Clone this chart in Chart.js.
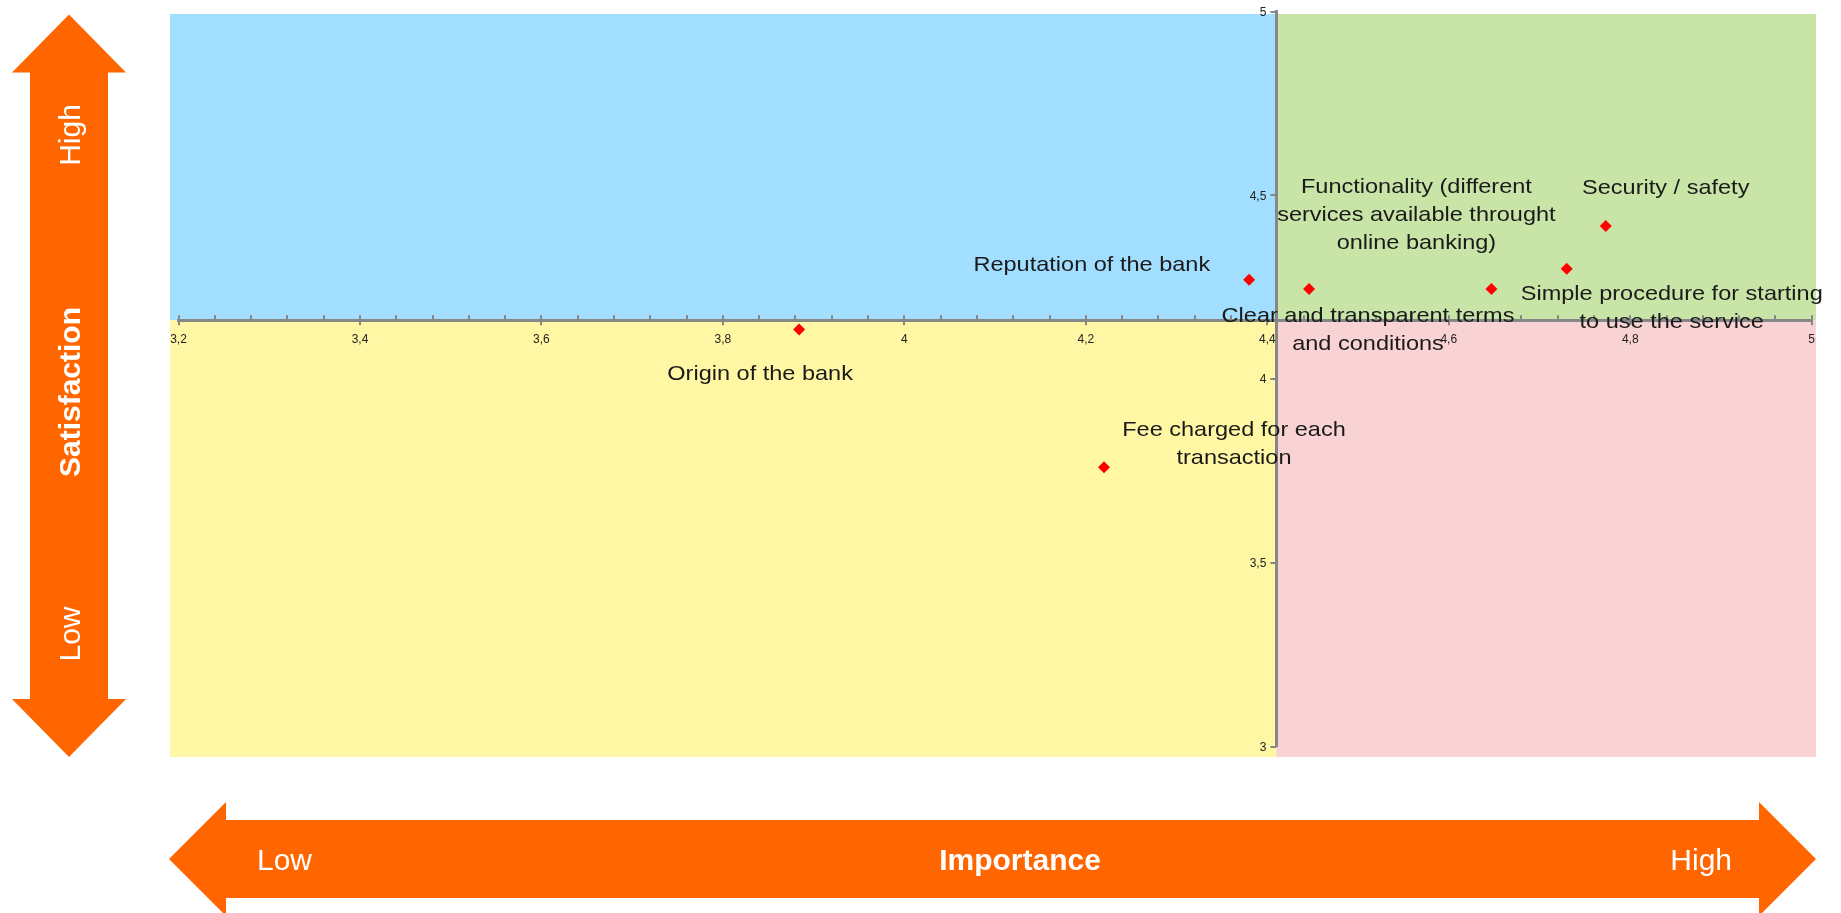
<!DOCTYPE html>
<html>
<head>
<meta charset="utf-8">
<title>Importance vs Satisfaction</title>
<script src="https://cdn.jsdelivr.net/npm/chart.js@4.4.1/dist/chart.umd.min.js"></script>
<style>
  html, body { margin: 0; padding: 0; background: #fff; }
  #wrap { position: relative; width: 1841px; height: 913px; }
</style>
</head>
<body>
<div id="wrap"><canvas id="matrix"></canvas></div>
<script>
// Factors of online banking, rated on importance (x) and satisfaction (y)
const factorLabels = [
  ['Security / safety'],
  ['Simple procedure for starting', 'to use the service'],
  ['Functionality (different', 'services available throught', 'online banking)'],
  ['Clear and transparent terms', 'and conditions'],
  ['Reputation of the bank'],
  ['Origin of the bank'],
  ['Fee charged for each', 'transaction']
];
const importance = [4.773, 4.73, 4.647, 4.446, 4.38, 3.884, 4.22];
const satisfaction = [4.416, 4.30, 4.245, 4.245, 4.27, 4.135, 3.76];

// Tick values and their printed labels (decimal comma)
const xMajorTicks = [3.2, 3.4, 3.6, 3.8, 4, 4.2, 4.4, 4.6, 4.8, 5];
const xTickLabels = ['3,2', '3,4', '3,6', '3,8', '4', '4,2', '4,4', '4,6', '4,8', '5'];
const yMajorTicks = [3, 3.5, 4, 4.5, 5];
const yTickLabels = ['3', '3,5', '4', '4,5', '5'];

// Where the two axes cross each other
const yAxisAt = 4.41;
const xAxisAt = 4.16;

// Where each label sits relative to its point
const labelLayout = [
  { dx: 60, dy: -38, align: 'center' },
  { dx: 105, dy: 25, align: 'center' },
  { dx: -75, dy: -102, align: 'center' },
  { dx: 59, dy: 27, align: 'center' },
  { dx: -39, dy: -15, align: 'right' },
  { dx: -39, dy: 45, align: 'center' },
  { dx: 130, dy: -37, align: 'center' }
];

const FONT = '"Liberation Sans", Arial, sans-serif';
const ORANGE = '#ff6600';
const AXIS_GREY = '#878787';

function tickText(value, ticks, labels) {
  const i = ticks.findIndex(t => Math.abs(t - value) < 1e-6);
  return i >= 0 ? labels[i] : '';
}

// Double-headed block arrow
function blockArrow(ctx, vertical, c, start, end, headLen, headHalf, shaftHalf) {
  const pts = [
    [start, 0], [start + headLen, -headHalf], [start + headLen, -shaftHalf],
    [end - headLen, -shaftHalf], [end - headLen, -headHalf], [end, 0],
    [end - headLen, headHalf], [end - headLen, shaftHalf],
    [start + headLen, shaftHalf], [start + headLen, headHalf]
  ];
  ctx.beginPath();
  pts.forEach(([a, b], i) => {
    const x = vertical ? c + b : a;
    const y = vertical ? a : c + b;
    if (i === 0) ctx.moveTo(x, y); else ctx.lineTo(x, y);
  });
  ctx.closePath();
  ctx.fillStyle = ORANGE;
  ctx.fill();
}

const backdrop = {
  id: 'backdrop',
  beforeDraw(chart) {
    const { ctx, chartArea: area, scales } = chart;
    const midX = scales.x.getPixelForValue(yAxisAt);
    const midY = scales.y.getPixelForValue(xAxisAt);
    const left = area.left - 8.5, right = area.right + 4.3;
    const top = area.top + 2.5, bottom = area.bottom + 10.5;
    ctx.save();
    ctx.fillStyle = '#a2deff';
    ctx.fillRect(left, top, midX - left, midY - top);
    ctx.fillStyle = '#c8e4a7';
    ctx.fillRect(midX, top, right - midX, midY - top);
    ctx.fillStyle = '#fff7a3';
    ctx.fillRect(left, midY, midX - left, bottom - midY);
    ctx.fillStyle = '#f9d2d3';
    ctx.fillRect(midX, midY, right - midX, bottom - midY);

    // Satisfaction arrow on the left, importance arrow along the bottom
    blockArrow(ctx, true, 69, 14.5, 757, 58, 57, 39);
    blockArrow(ctx, false, 859, 169, 1816, 57, 57, 39);

    ctx.fillStyle = '#fff';
    ctx.textBaseline = 'alphabetic';
    const vText = [['High', 135, ''], ['Satisfaction', 392, 'bold '], ['Low', 634, '']];
    vText.forEach(([txt, y, weight]) => {
      ctx.save();
      ctx.translate(80, y);
      ctx.rotate(-Math.PI / 2);
      ctx.textAlign = 'center';
      ctx.font = weight + '30px ' + FONT;
      ctx.fillText(txt, 0, 0);
      ctx.restore();
    });
    ctx.font = '30px ' + FONT;
    ctx.textAlign = 'left';
    ctx.fillText('Low', 257, 870);
    ctx.textAlign = 'right';
    ctx.fillText('High', 1732, 870);
    ctx.font = 'bold 30px ' + FONT;
    ctx.textAlign = 'center';
    ctx.fillText('Importance', 1020, 870);
    ctx.restore();
  }
};

// Tick marks (minor ones above the x axis, major ones crossing it) and y labels
const axisMarks = {
  id: 'axisMarks',
  beforeDatasetsDraw(chart) {
    const { ctx, scales: { x, y } } = chart;
    const axisY = y.getPixelForValue(xAxisAt);
    const axisX = x.getPixelForValue(yAxisAt);
    ctx.save();
    ctx.strokeStyle = AXIS_GREY;
    ctx.lineWidth = 2;
    ctx.beginPath();
    x.ticks.forEach(t => {
      const px = Math.round(x.getPixelForValue(t.value));
      const major = tickText(t.value, xMajorTicks, xTickLabels) !== '';
      ctx.moveTo(px, axisY - 5);
      ctx.lineTo(px, axisY + (major ? 5 : 0));
    });
    y.ticks.forEach(t => {
      const py = Math.round(y.getPixelForValue(t.value));
      ctx.moveTo(axisX - 6, py);
      ctx.lineTo(axisX, py);
    });
    ctx.stroke();

    ctx.fillStyle = '#222';
    ctx.font = '12px ' + FONT;
    ctx.textAlign = 'right';
    ctx.textBaseline = 'middle';
    yMajorTicks.forEach((v, i) => {
      ctx.fillText(yTickLabels[i], axisX - 10, y.getPixelForValue(v) + 1);
    });
    ctx.restore();
  }
};

const pointLabels = {
  id: 'pointLabels',
  afterDatasetsDraw(chart) {
    const ctx = chart.ctx;
    const pts = chart.getDatasetMeta(0).data;
    ctx.save();
    ctx.font = '21px ' + FONT;
    ctx.fillStyle = '#1a1a1a';
    ctx.textBaseline = 'middle';
    pts.forEach((pt, i) => {
      const lay = labelLayout[i];
      factorLabels[i].forEach((line, j) => {
        ctx.save();
        ctx.translate(pt.x + lay.dx, pt.y + lay.dy + j * 28);
        ctx.scale(1.12, 1);
        ctx.textAlign = lay.align;
        ctx.fillText(line, 0, 0);
        ctx.restore();
      });
    });
    ctx.restore();
  }
};

const axisStyle = {
  border: { color: AXIS_GREY, width: 3 },
  grid: { drawOnChartArea: false, drawTicks: false }
};

new Chart(document.getElementById('matrix'), {
  type: 'scatter',
  data: {
    datasets: [{
      data: importance.map((x, i) => ({ x, y: satisfaction[i] })),
      pointStyle: 'rectRot',
      pointRadius: 6,
      backgroundColor: '#ff0000',
      borderWidth: 0
    }]
  },
  options: {
    responsive: true,
    maintainAspectRatio: false,
    animation: false,
    layout: { padding: { left: 178.5, right: 29.3, top: 11.5, bottom: 166.5 } },
    plugins: { legend: { display: false }, tooltip: { enabled: false } },
    scales: {
      x: {
        type: 'linear',
        min: 3.2,
        max: 5,
        position: { y: xAxisAt },
        ...axisStyle,
        ticks: {
          stepSize: 0.04,
          autoSkip: false,
          maxRotation: 0,
          padding: 12,
          color: '#222',
          font: { family: FONT, size: 12 },
          callback: v => tickText(v, xMajorTicks, xTickLabels)
        }
      },
      y: {
        type: 'linear',
        min: 3,
        max: 5,
        position: { x: yAxisAt },
        ...axisStyle,
        ticks: {
          stepSize: 0.5,
          autoSkip: false,
          callback: () => ''
        }
      }
    }
  },
  plugins: [backdrop, axisMarks, pointLabels]
});
</script>
</body>
</html>
